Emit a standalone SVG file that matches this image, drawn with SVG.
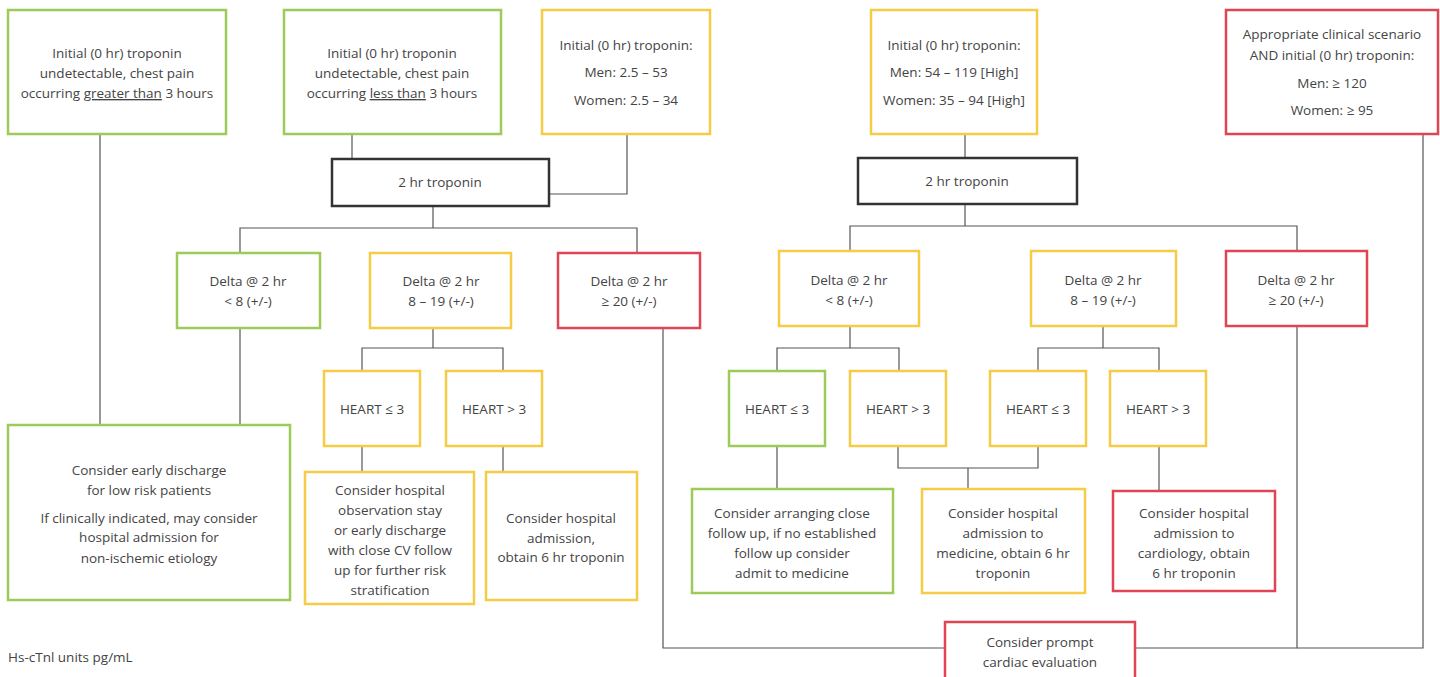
<svg xmlns="http://www.w3.org/2000/svg" width="1440" height="677" viewBox="0 0 1440 677">
<style>
.g{fill:#fff;stroke:#9dcb5a;stroke-width:2.5}
.y{fill:#fff;stroke:#f6cb45;stroke-width:2.5}
.r{fill:#fff;stroke:#df4553;stroke-width:2.5}
.k{fill:#fff;stroke:#333;stroke-width:2.5}
text{font-family:"Open Sans","Liberation Sans",Arial,sans-serif;font-size:13.5px;fill:#444;text-anchor:middle}
.c{fill:none;stroke:#555;stroke-width:1.2}
</style>
<rect width="1440" height="677" fill="#fff"/>
<g id="connectors">
<path class="c" d="M100 134V425"/>
<path class="c" d="M352 134V159"/>
<path class="c" d="M627 134V194H549"/>
<path class="c" d="M433 206V228M240 253V228H637V253"/>
<path class="c" d="M240 328V425"/>
<path class="c" d="M433 328V348M362 371V348H503V371"/>
<path class="c" d="M362 446V472"/>
<path class="c" d="M503 446V472"/>
<path class="c" d="M663 328V648H945"/>
<path class="c" d="M965 134V158"/>
<path class="c" d="M965 204V226M850 251V226H1297V251"/>
<path class="c" d="M850 326V348M777 371V348H899V371"/>
<path class="c" d="M1103 326V348M1038 371V348H1159V371"/>
<path class="c" d="M777 446V489"/>
<path class="c" d="M898 446V468H1038V446M968 468V489"/>
<path class="c" d="M1159 446V491"/>
<path class="c" d="M1297 326V648H1135"/>
<path class="c" d="M1423 134V648H1297"/>
</g>
<g id="n1"><rect class="g" x="8" y="10" width="218" height="124"/>
<text x="117" y="58">Initial (0 hr) troponin</text>
<text x="117" y="78">undetectable, chest pain</text>
<text x="117" y="98">occurring <tspan text-decoration="underline">greater than</tspan> 3 hours</text></g>
<g id="n2"><rect class="g" x="284" y="10" width="217" height="124"/>
<text x="392" y="58">Initial (0 hr) troponin</text>
<text x="392" y="78">undetectable, chest pain</text>
<text x="392" y="98">occurring <tspan text-decoration="underline">less than</tspan> 3 hours</text></g>
<g id="n3"><rect class="y" x="542" y="10" width="168" height="124"/>
<text x="626" y="50">Initial (0 hr) troponin:</text>
<text x="626" y="77">Men: 2.5 – 53</text>
<text x="626" y="105">Women: 2.5 – 34</text></g>
<g id="n4"><rect class="y" x="871" y="10" width="166" height="124"/>
<text x="954" y="50">Initial (0 hr) troponin:</text>
<text x="954" y="77">Men: 54 – 119 [High]</text>
<text x="954" y="105">Women: 35 – 94 [High]</text></g>
<g id="n5"><rect class="r" x="1226" y="10" width="212" height="124"/>
<text x="1332" y="39">Appropriate clinical scenario</text>
<text x="1332" y="60">AND initial (0 hr) troponin:</text>
<text x="1332" y="88">Men: ≥ 120</text>
<text x="1332" y="115">Women: ≥ 95</text></g>
<g id="t1"><rect class="k" x="332" y="159" width="217" height="47"/>
<text x="440" y="187">2 hr troponin</text></g>
<g id="t2"><rect class="k" x="858" y="158" width="219" height="46"/>
<text x="967" y="186">2 hr troponin</text></g>
<g id="d1"><rect class="g" x="177" y="253" width="143" height="75"/>
<text x="248" y="286">Delta @ 2 hr</text><text x="248" y="306">&lt; 8 (+/-)</text></g>
<g id="d2"><rect class="y" x="370" y="253" width="141" height="75"/>
<text x="441" y="286">Delta @ 2 hr</text><text x="441" y="306">8 – 19 (+/-)</text></g>
<g id="d3"><rect class="r" x="558" y="253" width="142" height="75"/>
<text x="629" y="286">Delta @ 2 hr</text><text x="629" y="306">≥ 20 (+/-)</text></g>
<g id="d4"><rect class="y" x="779" y="251" width="140" height="75"/>
<text x="849" y="285">Delta @ 2 hr</text><text x="849" y="305">&lt; 8 (+/-)</text></g>
<g id="d5"><rect class="y" x="1031" y="251" width="145" height="75"/>
<text x="1103" y="285">Delta @ 2 hr</text><text x="1103" y="305">8 – 19 (+/-)</text></g>
<g id="d6"><rect class="r" x="1226" y="251" width="141" height="75"/>
<text x="1296" y="285">Delta @ 2 hr</text><text x="1296" y="305">≥ 20 (+/-)</text></g>
<g id="h1"><rect class="y" x="324" y="371" width="96" height="75"/><text x="372" y="414">HEART ≤ 3</text></g>
<g id="h2"><rect class="y" x="446" y="371" width="96" height="75"/><text x="494" y="414">HEART &gt; 3</text></g>
<g id="h3"><rect class="g" x="729" y="371" width="96" height="75"/><text x="777" y="414">HEART ≤ 3</text></g>
<g id="h4"><rect class="y" x="850" y="371" width="96" height="75"/><text x="898" y="414">HEART &gt; 3</text></g>
<g id="h5"><rect class="y" x="990" y="371" width="96" height="75"/><text x="1038" y="414">HEART ≤ 3</text></g>
<g id="h6"><rect class="y" x="1110" y="371" width="96" height="75"/><text x="1158" y="414">HEART &gt; 3</text></g>
<g id="o1"><rect class="g" x="8" y="425" width="282" height="175"/>
<text x="149" y="475">Consider early discharge</text>
<text x="149" y="495">for low risk patients</text>
<text x="149" y="523">If clinically indicated, may consider</text>
<text x="149" y="542">hospital admission for</text>
<text x="149" y="563">non-ischemic etiology</text></g>
<g id="o2"><rect class="y" x="305" y="472" width="169" height="132"/>
<text x="390" y="495">Consider hospital</text>
<text x="390" y="515">observation stay</text>
<text x="390" y="535">or early discharge</text>
<text x="390" y="555">with close CV follow</text>
<text x="390" y="575">up for further risk</text>
<text x="390" y="595">stratification</text></g>
<g id="o3"><rect class="y" x="486" y="472" width="151" height="128"/>
<text x="561" y="523">Consider hospital</text>
<text x="561" y="543">admission,</text>
<text x="561" y="562">obtain 6 hr troponin</text></g>
<g id="o4"><rect class="g" x="692" y="489" width="201" height="104"/>
<text x="792" y="518">Consider arranging close</text>
<text x="792" y="538">follow up, if no established</text>
<text x="792" y="558">follow up consider</text>
<text x="792" y="578">admit to medicine</text></g>
<g id="o5"><rect class="y" x="922" y="489" width="163" height="104"/>
<text x="1003" y="518">Consider hospital</text>
<text x="1003" y="538">admission to</text>
<text x="1003" y="558">medicine, obtain 6 hr</text>
<text x="1003" y="578">troponin</text></g>
<g id="o6"><rect class="r" x="1113" y="491" width="162" height="100"/>
<text x="1194" y="518">Consider hospital</text>
<text x="1194" y="538">admission to</text>
<text x="1194" y="558">cardiology, obtain</text>
<text x="1194" y="578">6 hr troponin</text></g>
<g id="o7"><rect class="r" x="945" y="622" width="190" height="70"/>
<text x="1040" y="647">Consider prompt</text>
<text x="1040" y="667">cardiac evaluation</text></g>
<text x="8" y="662" style="text-anchor:start">Hs-cTnl units pg/mL</text>
</svg>
